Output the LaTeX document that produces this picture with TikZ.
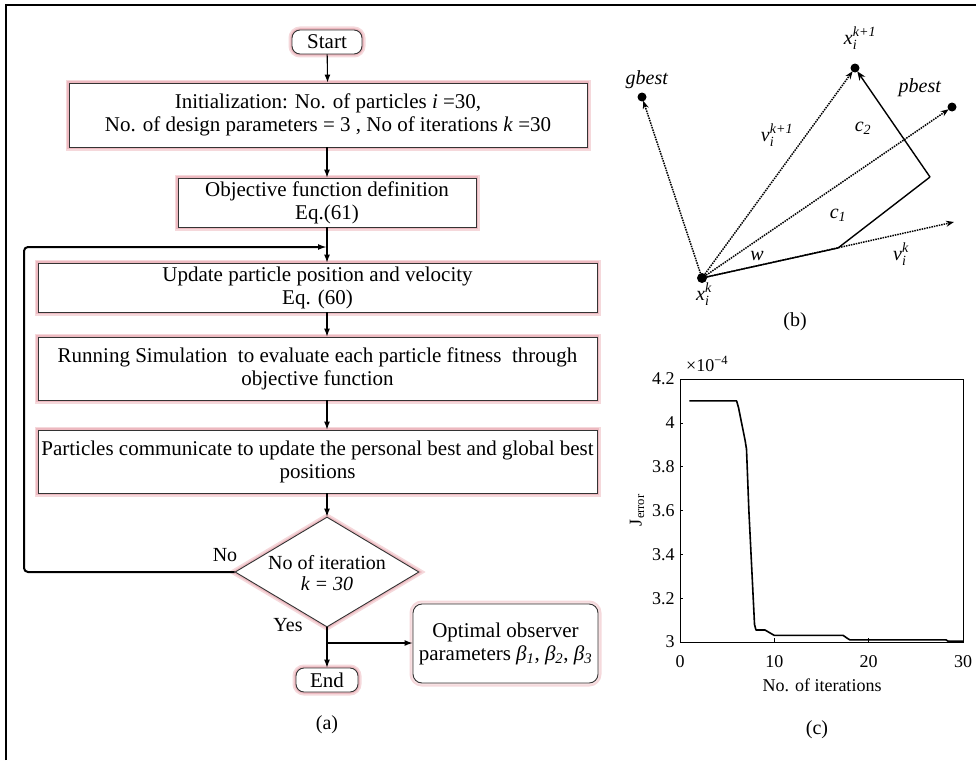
\documentclass[tikz,border=0pt]{standalone}
\usepackage{amsmath}
\usepackage{fontspec}
\setmainfont{Liberation Serif}
\usetikzlibrary{arrows.meta,shapes.geometric}
\definecolor{glow}{RGB}{232,168,176}
\newcommand{\flowfont}{\fontsize{21}{23}\selectfont}
\newcommand{\diafont}{\fontsize{20}{21}\selectfont}
\newcommand{\labfont}{\fontsize{20}{22}\selectfont}
\newcommand{\tickfont}{\fontsize{18}{20}\selectfont}
\tikzset{
  glowline/.style={preaction={draw=glow!45,line width=7pt},preaction={draw=glow!80,line width=3.5pt}},
  fbox/.style={draw=black!80,line width=0.9pt,glowline,fill=white,inner sep=0pt,align=center,font=\flowfont},
  term/.style={fbox,rounded corners=8pt,minimum width=70pt,minimum height=24pt},
  obox/.style={fbox,rounded corners=9pt,preaction={draw=glow!35,line width=4pt}},
  flow/.style={-{Latex[length=8pt,width=6pt]},line width=1.1pt},
  dotarrow/.style={densely dotted,line width=1.5pt,-{Stealth[length=8pt,width=6pt]},shorten >=4pt},
  solidarrow/.style={line width=1.4pt},
  lab/.style={font=\labfont,inner sep=0pt},
  tick/.style={font=\tickfont,inner sep=0pt}
}
\begin{document}
\begin{tikzpicture}[x=1pt,y=-1pt]
\useasboundingbox (0,0) rectangle (976,760);
\draw[line width=2pt] (6,760) -- (6,5) -- (976,5);

% ---------- (a) flowchart ----------
\node[term] (start) at (327,42) {Start};
\node[fbox,minimum width=518pt,minimum height=64pt] (init) at (328,115)
  {Initialization: No. of particles \textit{i} =30,\\No. of design parameters = 3 , No of iterations \textit{k} =30};
\node[fbox,minimum width=298pt,minimum height=49pt] (obj) at (327,202.5)
  {Objective function definition\\Eq.(61)};
\node[fbox,minimum width=559pt,minimum height=49pt] (upd) at (317.5,287.5)
  {Update particle position and velocity\\Eq. (60)};
\node[fbox,minimum width=559pt,minimum height=63pt] (run) at (317.5,368.5)
  {Running Simulation\ \ to evaluate each particle fitness\ \ through\\objective function};
\node[fbox,minimum width=559pt,minimum height=63pt] (part) at (317.5,461.5)
  {Particles communicate to update the personal best and global best\\positions};
\node[diamond,draw=black!80,line width=0.9pt,glowline,fill=white,minimum width=184pt,minimum height=110pt,inner sep=0pt] (dia) at (327,572) {};
\node[font=\diafont,align=center,inner sep=0pt] (diatext) at (327,573) {No of iteration\\\textit{k = 30}};
\node[term,minimum width=62pt,minimum height=24pt] (end) at (327,680) {End};
\node[obox,minimum width=185pt,minimum height=79pt] (opt) at (505.5,643.5)
  {Optimal observer\\parameters \textit{β}\textsubscript{\textit{1}}, \textit{β}\textsubscript{\textit{2}}, \textit{β}\textsubscript{\textit{3}}};

\draw[flow] (start) -- (init);
\draw[flow] (init.south -| obj.north) -- (obj.north);
\draw[flow] (obj.south) -- (upd.north -| obj.south);
\draw[flow] (upd.south -| obj.south) -- (run.north -| obj.south);
\draw[flow] (run.south -| obj.south) -- (part.north -| obj.south);
\draw[flow] (part.south -| obj.south) -- (dia.north);
\draw[flow] (dia.south) -- (end.north);
\coordinate (br) at (327,643);
\draw[flow] (br) -- (br -| opt.west);
\coordinate (lj) at (327,247);
\coordinate (lc1) at (24,572);
\coordinate (lc2) at (24,247);
\draw[line width=2pt,rounded corners=4pt,-{Latex[length=9pt,width=6pt]}] (dia.west) -- (lc1) -- (lc2) -- (lj);
\node[font=\diafont,inner sep=0pt] (no) at (225,555) {No};
\node[font=\diafont,inner sep=0pt] (yes) at (288,625) {Yes};
\node[font=\diafont,inner sep=0pt] (capa) at (327,725) {(a)};

% ---------- (b) vector diagram ----------
\coordinate (xk) at (702,278);
\coordinate (gb) at (642,97);
\coordinate (xk1) at (855,68);
\coordinate (pb) at (952,107);
\coordinate (jn) at (838,248);
\coordinate (cr) at (930,177);
\coordinate (vk) at (954,222);
\draw[dotarrow] (xk) -- (gb);
\draw[dotarrow] (xk) -- (xk1);
\draw[dotarrow] (xk) -- (pb);
\draw[densely dotted,line width=1.5pt,-{Stealth[length=8pt,width=6pt]}] (xk) -- (vk);
\draw[solidarrow] (xk) -- (jn) -- (cr);
\draw[solidarrow,-{Stealth[length=9pt,width=7pt]},shorten >=4pt] (cr) -- (xk1);
\fill (xk) circle (5pt);
\fill (gb) circle (4.5pt);
\fill (xk1) circle (4.5pt);
\fill (pb) circle (4.5pt);
\node[lab] (lgb) at (647,80) {\textit{gbest}};
\node[lab] (lxk1) at (860,38) {$\textit{x}_{\textit{i}}^{\textit{k+1}}$};
\node[lab] (lpb) at (920,88) {\textit{pbest}};
\node[lab] (lvk1) at (777,135) {$\textit{v}_{\textit{i}}^{\textit{k+1}}$};
\node[lab] (lc2l) at (863,128) {$\textit{c}_{\textit{2}}$};
\node[lab] (lc1l) at (838,215) {$\textit{c}_{\textit{1}}$};
\node[lab] (lw) at (757,256) {\textit{w}};
\node[lab] (lvk) at (901,254) {$\textit{v}_{\textit{i}}^{\textit{k}}$};
\node[lab] (lxk) at (704,294) {$\textit{x}_{\textit{i}}^{\textit{k}}$};
\node[lab] (capb) at (795,322) {(b)};

% ---------- (c) convergence plot ----------
\begin{scope}[shift={(680,642)},x=9.4333pt,y=219.17pt]
  \draw[line width=0.9pt] (0,0) rectangle (30,1.2);
  \foreach \v/\t in {0/3,0.2/3.2,0.4/3.4,0.6/3.6,0.8/3.8,1.0/4,1.2/4.2}{
    \draw[line width=0.6pt] (0,\v) -- (0.35,\v);
    \node[tick,anchor=east] at (-0.55,\v) {\t};
  }
  \foreach \u in {0,10,20,30}{
    \draw[line width=0.6pt] (\u,0) -- (\u,0.02);
    \node[tick] at (\u,-0.09) {\u};
  }
  \draw[line width=1.6pt,line join=round]
    (1,1.1) -- (6,1.1) -- (6.2,1.07) -- (6.9,0.92) -- (7.05,0.88) -- (7.3,0.6)
    -- (7.9,0.08) -- (8.05,0.055) -- (9,0.055) -- (9.4,0.045) -- (10,0.03)
    -- (17.3,0.03) -- (17.8,0.015) -- (18,0.01) -- (28.2,0.01) -- (28.4,0.004) -- (30,0.004);
\end{scope}
\node[tick,anchor=west] (mult) at (686,364) {×10\textsuperscript{−4}};
\node[tick,rotate=90] (jlab) at (637,510) {J\textsubscript{error}};
\node[tick] (xlab) at (822,685) {No. of iterations};
\node[font=\diafont,inner sep=0pt] (capc) at (817,730) {(c)};
\end{tikzpicture}
\end{document}
